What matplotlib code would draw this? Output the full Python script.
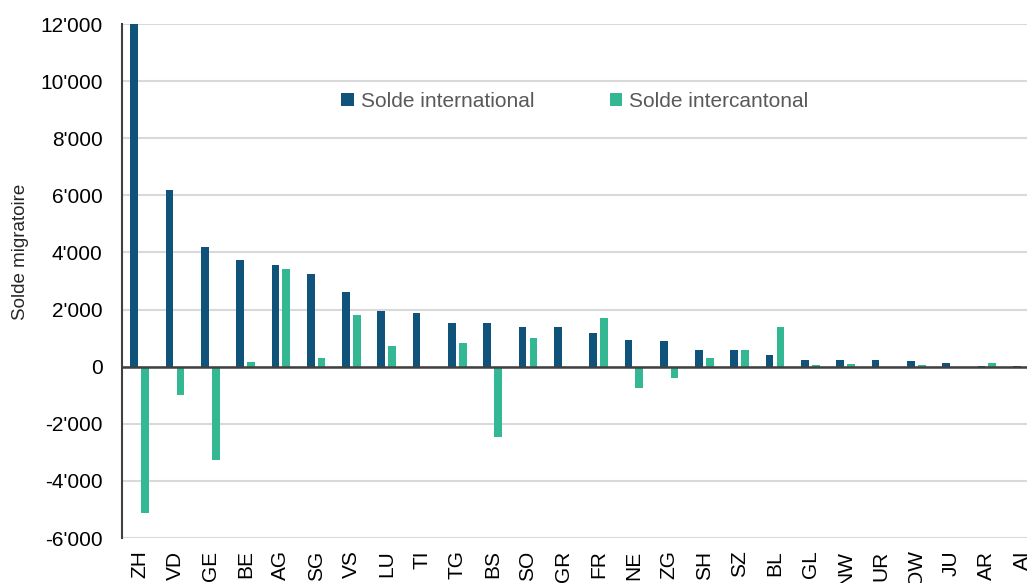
import matplotlib
matplotlib.use("Agg")
import matplotlib.pyplot as plt
import numpy as np
from matplotlib.ticker import FuncFormatter

plt.rcParams['font.family'] = ['Liberation Sans', 'DejaVu Sans']

cantons = ["ZH", "VD", "GE", "BE", "AG", "SG", "VS", "LU", "TI", "TG", "BS", "SO", "GR",
           "FR", "NE", "ZG", "SH", "SZ", "BL", "GL", "NW", "UR", "OW", "JU", "AR", "AI"]
solde_international = [12000, 6180, 4190, 3720, 3570, 3250, 2630, 1940, 1880, 1540, 1530, 1390, 1390,
                       1190, 920, 890, 585, 570, 420, 245, 245, 240, 185, 140, 35, 10]
solde_intercantonal = [-5120, -980, -3260, 175, 3415, 315, 1825, 725, 0, 830, -2480, 1005, 0,
                       1720, -750, -400, 305, 585, 1390, 70, 95, 0, 70, 0, 140, 0]
yticks = [-6000, -4000, -2000, 0, 2000, 4000, 6000, 8000, 10000, 12000]

c_int = "#10537A"
c_cant = "#34B894"

fig = plt.figure(figsize=(10.27, 5.83), dpi=100)
ax = fig.add_axes([122/1027, 45/583, 905/1027, 514/583])

x = np.arange(len(cantons))
w = 0.218
off = 0.155
ax.bar(x - off, solde_international, width=w, color=c_int, label="Solde international", zorder=3)
ax.bar(x + off, solde_intercantonal, width=w, color=c_cant, label="Solde intercantonal", zorder=3)

ax.set_xlim(-0.5, -0.5 + 905/35.3)
ax.set_ylim(-6000, 12000)
ax.set_yticks(yticks)
ax.yaxis.set_major_formatter(FuncFormatter(lambda v, p: f"{int(v):,}".replace(",", "'")))
ax.set_xticks(x)
ax.set_xticklabels(cantons, rotation=90, va='top', ha='center')

ax.grid(axis='y', color='#d9d9d9', linewidth=1.5, zorder=0)
ax.axhline(0, color='#404040', linewidth=1.8, zorder=4)
for s in ['top', 'right', 'bottom']:
    ax.spines[s].set_visible(False)
ax.spines['left'].set_color('#404040')
ax.spines['left'].set_linewidth(1.5)
ax.tick_params(axis='both', length=0, labelsize=15, colors='#000000')
ax.tick_params(axis='y', pad=14)
ax.tick_params(axis='x', pad=9)

ax.set_ylabel("Solde migratoire", fontsize=13.5, color='#262626')
ax.yaxis.set_label_coords(-0.103, 0.556)

ax.legend(ncol=2, loc='center', bbox_to_anchor=(0.5006, 0.850), frameon=False,
          fontsize=15, labelcolor='#595959', handlelength=0.6, handleheight=0.6,
          handletextpad=0.35, columnspacing=3.6)

fig.savefig("out.png", dpi=100)
